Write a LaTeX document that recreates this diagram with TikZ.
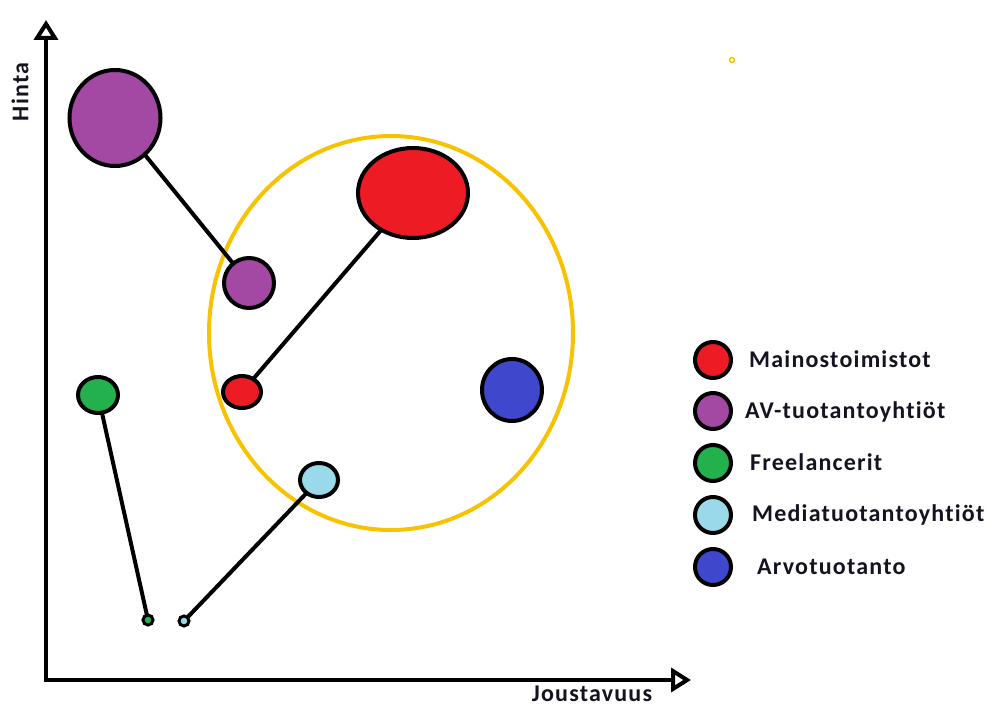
\documentclass[tikz,border=0pt]{standalone}
\usepackage{fontspec}
\setmainfont{Carlito}[Ligatures={NoCommon}, LetterSpace=5]
\usetikzlibrary{shapes.geometric,arrows.meta}
\definecolor{cred}{HTML}{ED1C24}
\definecolor{cpurple}{HTML}{A349A4}
\definecolor{cgreen}{HTML}{22B14C}
\definecolor{clblue}{HTML}{99D9EA}
\definecolor{cblue}{HTML}{3F48CC}
\definecolor{cgold}{HTML}{F7C200}
\definecolor{ctext}{HTML}{141420}
\tikzset{
  blob/.style={ellipse, draw=black, line width=4pt, inner sep=0pt, outer sep=0pt},
  link/.style={line width=4pt, black},
  axis/.style={line width=4pt, black, -{Triangle[open, length=20pt, width=24pt, line width=4pt]}},
  txt/.style={font=\fontsize{24pt}{28pt}\selectfont\bfseries, text=ctext, inner sep=0pt},
  lbl/.style={txt, anchor=west},
}
\begin{document}
\begin{tikzpicture}[x=1pt,y=-1pt]
\useasboundingbox (0,0) rectangle (989,709);
% axes
\coordinate (ytip) at (46,20);
\coordinate (xtip) at (691,680);
\draw[axis] (46,682) -- (ytip);
\draw[axis] (44,680) -- (xtip);
\node[txt, rotate=90] (hinta) at (20,92) {Hinta};
\node[txt, anchor=base] (jous) at (592,701) {Joustavuus};
% gold ellipse
\node[ellipse, draw=cgold, line width=4pt, minimum width=364pt, minimum height=394pt] (zone) at (391,333) {};
\node[circle, draw=cgold, line width=1.5pt, minimum size=5pt, inner sep=0pt] (dot) at (732,60) {};
% blobs
\node[blob, fill=cpurple, minimum width=91pt, minimum height=96pt] (p1) at (115,118) {};
\node[blob, fill=cpurple, minimum width=50pt, minimum height=50pt] (p2) at (249,283) {};
\node[blob, fill=cred, minimum width=110pt, minimum height=90pt] (r1) at (413,193) {};
\node[blob, fill=cred, minimum width=38pt, minimum height=32pt] (r2) at (242,392) {};
\node[blob, fill=cblue, minimum width=60pt, minimum height=62pt] (b1) at (512,390) {};
\node[blob, fill=cgreen, minimum width=40pt, minimum height=36pt] (g1) at (98,395) {};
\node[blob, fill=clblue, minimum width=38pt, minimum height=34pt] (l1) at (319,480) {};
\node[blob, fill=cgreen, line width=3pt, minimum width=10pt, minimum height=10pt] (g2) at (148,620) {};
\node[blob, fill=clblue, line width=3pt, minimum width=10pt, minimum height=10pt] (l2) at (184,621) {};
% links
\draw[link] (p1) -- (p2);
\draw[link] (r2) -- (r1);
\draw[link] (g1) -- (g2);
\draw[link] (l1) -- (l2);
% legend
\node[blob, fill=cred, minimum size=36pt] (k1) at (713,360) {};
\node[blob, fill=cpurple, minimum size=36pt] (k2) at (713,411) {};
\node[blob, fill=cgreen, minimum size=36pt] (k3) at (713,463) {};
\node[blob, fill=clblue, minimum size=36pt] (k4) at (713,515) {};
\node[blob, fill=cblue, minimum size=36pt] (k5) at (713,567) {};
\node[lbl] (t1) at (749,359) {Mainostoimistot};
\node[lbl] (t2) at (745,412) {AV-tuotantoyhtiöt};
\node[lbl] (t3) at (750,462) {Freelancerit};
\node[lbl] (t4) at (752,515) {Mediatuotantoyhtiöt};
\node[lbl] (t5) at (757,567) {Arvotuotanto};
\end{tikzpicture}
\end{document}
